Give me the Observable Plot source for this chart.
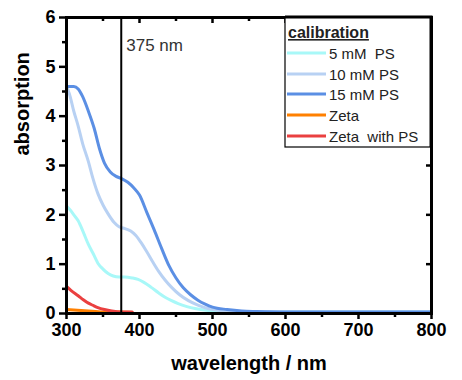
<!DOCTYPE html>
<html>
<head>
<meta charset="utf-8">
<script src="https://cdn.jsdelivr.net/npm/d3@7"></script>
<script src="https://cdn.jsdelivr.net/npm/@observablehq/plot@0.6"></script>
<style>
  html, body { margin: 0; padding: 0; background: #fff; }
  #chart { position: relative; width: 462px; height: 380px; }
  svg { font-family: "Liberation Sans", Arial, sans-serif; }
</style>
</head>
<body>
<div id="chart"></div>
<script>
// ---- data ----
const seriesNames = ["5 mM  PS", "10 mM PS", "15 mM PS", "Zeta", "Zeta  with PS"];
const seriesColors = ["#a8f8f8", "#b8d1f3", "#5b8fe4", "#ff8000", "#ea4040"];

const wl5   = [300, 305, 310, 316, 323, 330, 337, 343, 350, 357, 364, 372, 380, 390, 398, 406, 416, 426, 435, 444, 453, 465, 476, 494, 510, 540, 600, 700, 800];
const abs5  = [2.18, 2.1, 2.0, 1.88, 1.65, 1.4, 1.2, 1.02, 0.9, 0.81, 0.76, 0.74, 0.74, 0.72, 0.69, 0.63, 0.53, 0.42, 0.33, 0.26, 0.2, 0.14, 0.1, 0.06, 0.04, 0.03, 0.03, 0.03, 0.03];

const wl10  = [300, 304, 310, 316, 322, 330, 336, 343, 350, 357, 365, 372, 380, 388, 395, 402, 410, 418, 426, 435, 444, 455, 467, 480, 494, 510, 530, 600, 700, 800];
const abs10 = [4.6, 4.45, 4.1, 3.8, 3.45, 3.08, 2.75, 2.43, 2.2, 2.02, 1.85, 1.76, 1.72, 1.67, 1.58, 1.44, 1.25, 1.05, 0.86, 0.68, 0.53, 0.38, 0.26, 0.17, 0.1, 0.06, 0.04, 0.03, 0.03, 0.03];

const wl15  = [300, 310, 316, 322, 330, 338, 345, 352, 360, 368, 376, 384, 392, 400, 410, 420, 430, 440, 450, 460, 470, 480, 490, 500, 520, 540, 560, 600, 700, 800];
const abs15 = [4.6, 4.6, 4.55, 4.4, 4.1, 3.75, 3.35, 3.05, 2.87, 2.78, 2.73, 2.66, 2.55, 2.4, 2.05, 1.7, 1.33, 0.98, 0.72, 0.52, 0.38, 0.27, 0.19, 0.13, 0.08, 0.05, 0.04, 0.03, 0.03, 0.03];

const wlZeta   = [300, 310, 320, 330, 340, 350, 370, 390];
const absZeta  = [0.08, 0.07, 0.06, 0.05, 0.04, 0.03, 0.03, 0.02];

const wlZetaPS  = [300, 306, 316, 323, 330, 337, 343, 352, 362, 375, 390];
const absZetaPS = [0.55, 0.47, 0.36, 0.28, 0.21, 0.16, 0.12, 0.08, 0.05, 0.03, 0.03];

const markerWavelength = 375;
const markerLabel = "375 nm";
const xTicks = [300, 400, 500, 600, 700, 800];
const xMinor = [350, 450, 550, 650, 750];
const yTicks = [0, 1, 2, 3, 4, 5, 6];
const yMinor = [0.5, 1.5, 2.5, 3.5, 4.5, 5.5];
const yRightTicks = [1, 2, 3, 4, 5];
const legendTitle = "calibration";
const xLabel = "wavelength / nm";
const yLabel = "absorption";

// ---- build table ----
const wls = [wl5, wl10, wl15, wlZeta, wlZetaPS];
const abss = [abs5, abs10, abs15, absZeta, absZetaPS];
const rows = [];
seriesNames.forEach((name, i) => wls[i].forEach((w, j) => rows.push({series: name, wl: w, a: abss[i][j]})));

// layout
const W = 462, H = 380, mL = 66, mR = 31, mT = 17, mB = 67;
const fw = W - mL - mR, fh = H - mT - mB;

const font = {fontSize: 18, fontWeight: "bold", fill: "#000"};
const tk = {stroke: "#000", strokeWidth: 2.5};

const plot = Plot.plot({
  width: W,
  height: H,
  marginLeft: mL,
  marginRight: mR,
  marginTop: mT,
  marginBottom: mB,
  style: {fontFamily: "'Liberation Sans', Arial, sans-serif", background: "#fff"},
  x: {domain: [300, 800]},
  y: {domain: [0, 6]},
  color: {domain: seriesNames, range: seriesColors},
  marks: [
    Plot.line(rows, {x: "wl", y: "a", z: "series", stroke: "series", strokeWidth: 3, curve: "monotone-x"}),
    Plot.ruleX([markerWavelength], {stroke: "#000", strokeWidth: 2}),
    Plot.text([markerLabel], {x: () => markerWavelength, frameAnchor: "top", textAnchor: "start", dx: 5, dy: 21, fontSize: 17, fill: "#333"}),
    // tick labels (ticks drawn separately below)
    Plot.axisX(xTicks, {anchor: "bottom", tickSize: 6, tickPadding: 4, strokeOpacity: 0, tickFormat: d => String(d), label: null, ...font}),
    Plot.axisY(yTicks, {anchor: "left", tickSize: 7, tickPadding: 4, strokeOpacity: 0, tickFormat: d => String(d), label: null, ...font}),
    // bottom ticks (outward)
    Plot.tickX(xTicks, {x: d => d, insetTop: fh, insetBottom: -6, ...tk}),
    Plot.tickX(xMinor, {x: d => d, insetTop: fh, insetBottom: -4, ...tk}),
    // top ticks (inward)
    Plot.tickX(xTicks, {x: d => d, insetBottom: fh - 6, ...tk}),
    Plot.tickX(xMinor, {x: d => d, insetBottom: fh - 4, ...tk}),
    // left ticks (outward)
    Plot.tickY(yTicks, {y: d => d, insetRight: fw, insetLeft: -7, ...tk}),
    Plot.tickY(yMinor, {y: d => d, insetRight: fw, insetLeft: -4, ...tk}),
    // right ticks (inward)
    Plot.tickY(yRightTicks, {y: d => d, insetLeft: fw - 5, ...tk}),
    Plot.frame({stroke: "#000", strokeWidth: 3}),
    // axis titles
    Plot.text([xLabel], {frameAnchor: "bottom", dy: 56, fontSize: 20, fontWeight: "bold", fill: "#000"}),
    Plot.text([yLabel], {frameAnchor: "left", rotate: -90, dx: -44, dy: -10, fontSize: 20, fontWeight: "bold", fill: "#000"})
  ]
});

document.getElementById("chart").appendChild(plot);

// ---- legend inside the plot (top-right corner) ----
const svg = d3.select(plot);
const lg = svg.append("g").attr("class", "legend").attr("text-anchor", "start");
const boxLeft = 285, boxTop = mT, boxRight = W - mR, boxBottom = 147;
lg.append("rect")
  .attr("x", boxLeft).attr("y", boxTop)
  .attr("width", boxRight - boxLeft).attr("height", boxBottom - boxTop)
  .attr("fill", "#fff").attr("stroke", "#000").attr("stroke-width", 1.2);
lg.append("line").attr("x1", boxLeft).attr("x2", boxRight + 1.5).attr("y1", boxTop).attr("y2", boxTop).attr("stroke", "#000").attr("stroke-width", 3);
lg.append("line").attr("x1", boxRight).attr("x2", boxRight).attr("y1", boxTop).attr("y2", boxBottom).attr("stroke", "#000").attr("stroke-width", 3);
lg.append("text")
  .attr("x", 288).attr("y", 38)
  .attr("text-anchor", "start")
  .attr("font-size", 16).attr("font-weight", "bold")
  .attr("text-decoration", "underline")
  .attr("fill", "#222")
  .text(legendTitle);
const rowY = [53, 74, 94, 115, 136];
seriesNames.forEach((name, i) => {
  const y = rowY[i];
  lg.append("line")
    .attr("x1", 287).attr("x2", 326).attr("y1", y).attr("y2", y)
    .attr("stroke", seriesColors[i]).attr("stroke-width", 3);
  lg.append("text")
    .attr("x", 329).attr("y", y + 5.5)
    .attr("text-anchor", "start")
    .attr("font-size", 15).attr("fill", "#222")
    .style("white-space", "pre")
    .text(name);
});
</script>
</body>
</html>
